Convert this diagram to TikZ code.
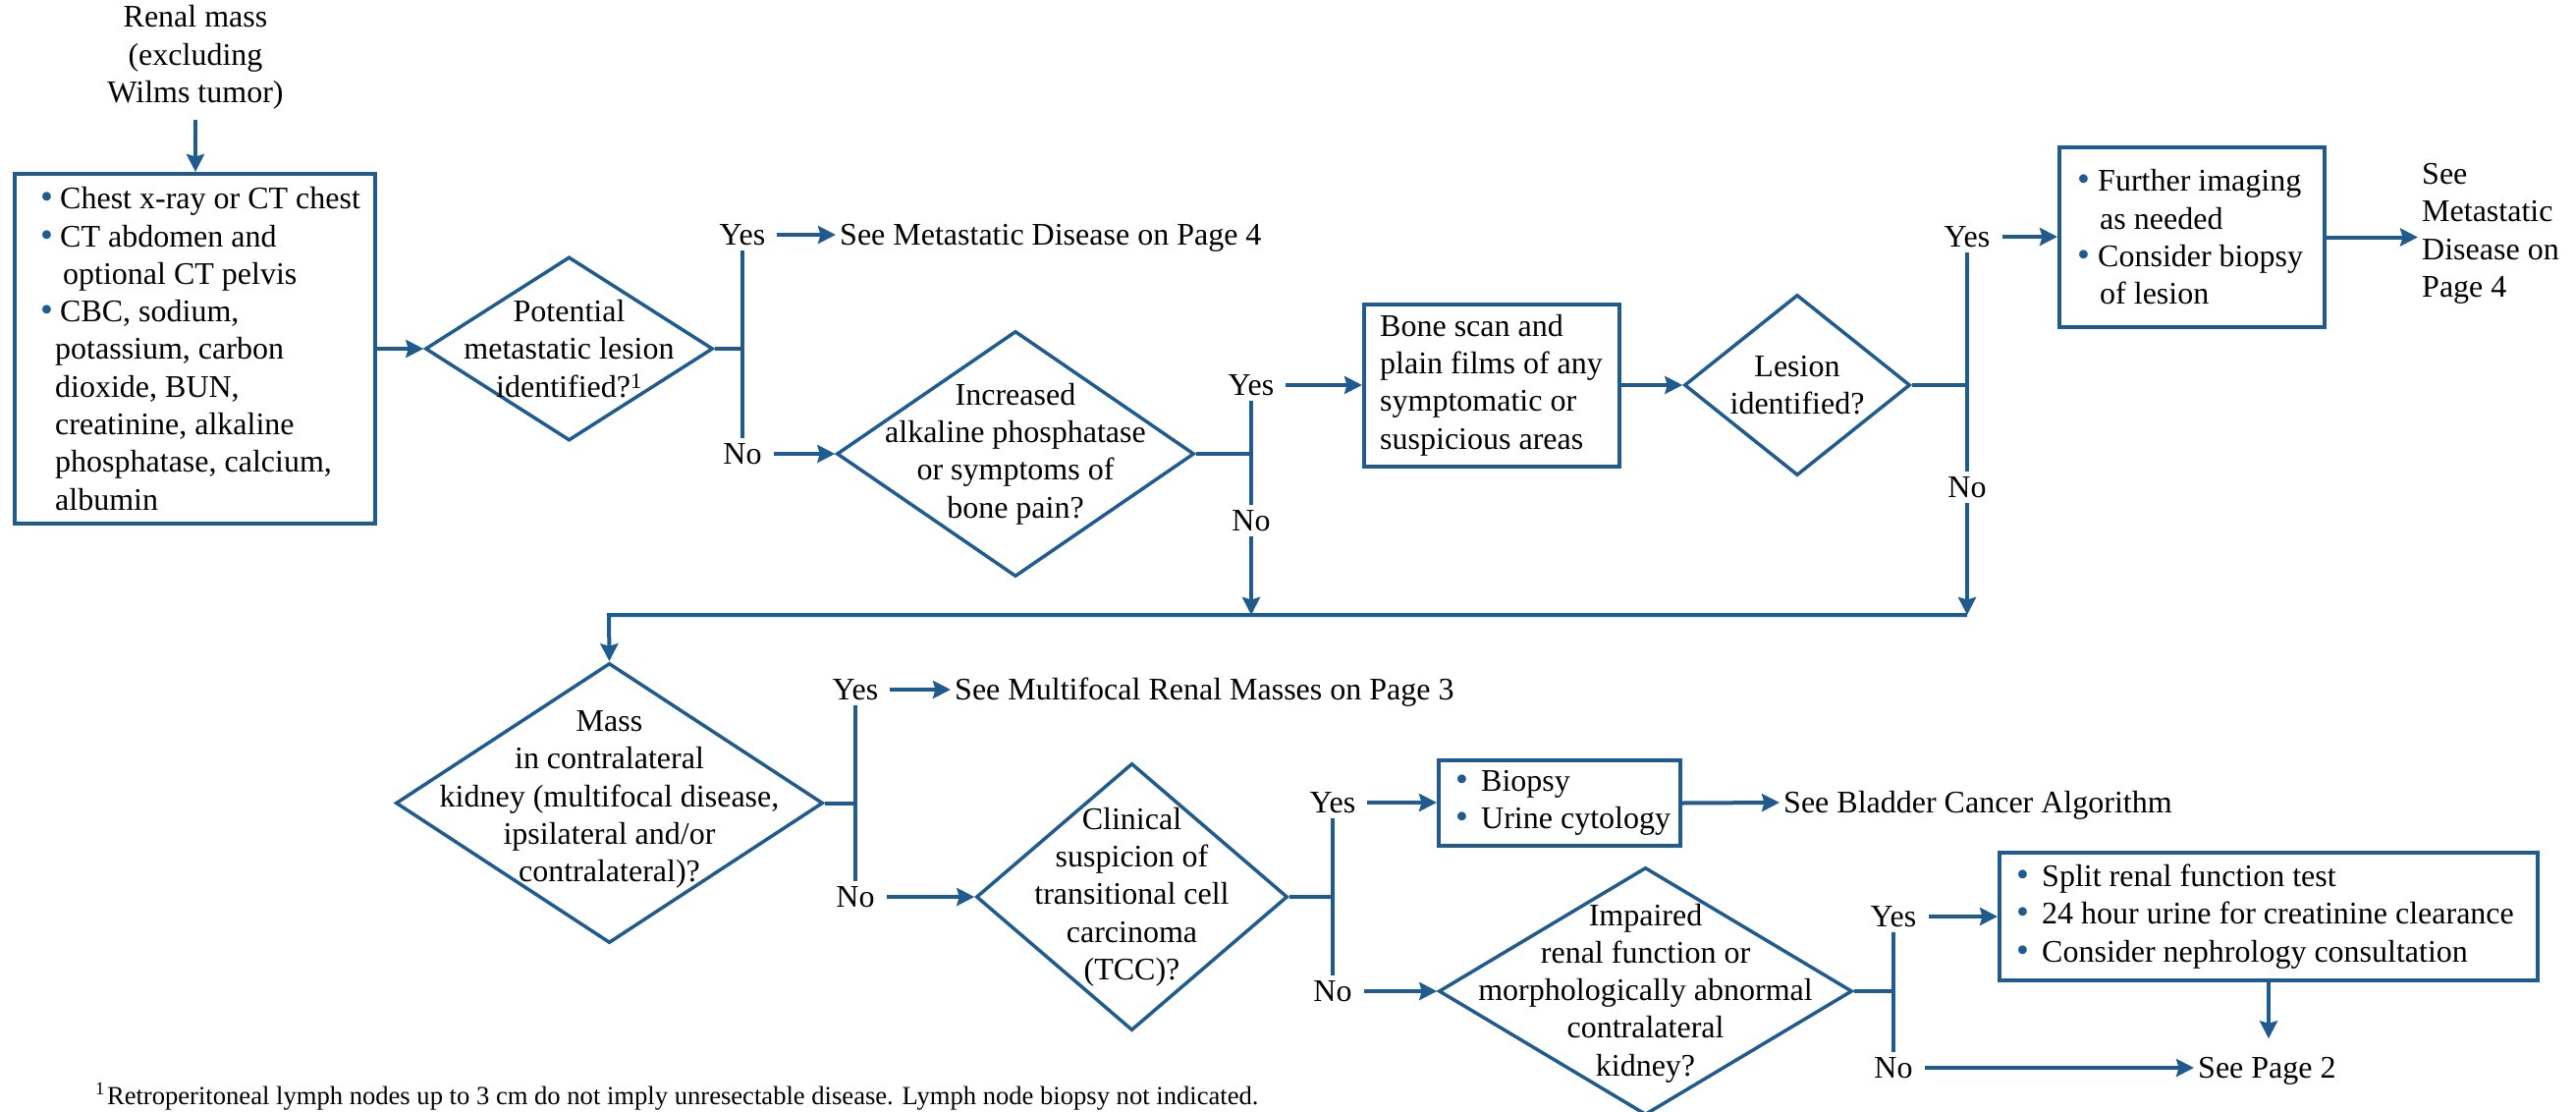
\documentclass[tikz,border=0pt]{standalone}
\usepackage{fontspec}
\setmainfont{Liberation Serif}
\usetikzlibrary{shapes.geometric,arrows.meta}
\definecolor{mblue}{RGB}{31,91,143}
% bullet in a fixed-width box so the item text starts at a fixed offset
\newcommand{\bi}[1][20pt]{\makebox[#1][l]{\color{mblue}\scalebox{1.15}{\textbullet}}}

\tikzset{
  every node/.style={font=\fontsize{32}{38.3}\selectfont, inner sep=0pt},
  boxnode/.style={draw=mblue, line width=4pt, rectangle, line join=miter},
  dnode/.style={draw=mblue, line width=3.5pt, diamond, aspect=1},
  btext/.style={align=left, anchor=west},
  dtext/.style={align=center},
  yn/.style={inner xsep=12pt, inner ysep=5pt, text height=21pt, text depth=0pt},
  seetext/.style={anchor=west, inner xsep=4pt, text height=21pt, text depth=0pt},
  conn/.style={draw=mblue, line width=4pt},
  arr/.style={conn, -{Stealth[length=18pt,width=18pt,inset=2.5pt]}},
}

\begin{document}
\begin{tikzpicture}[x=1pt, y=-1pt]
\useasboundingbox (0,0) rectangle (2623,1132);

% ---------- first row ----------
\node[align=center, inner ysep=10pt] (start) at (199,58.5) {Renal mass\\(excluding\\Wilms tumor)};

\node[boxnode, minimum width=367, minimum height=356] (b1) at (198.5,355) {};
\node[btext] (b1t) at (41,355) {%
\bi Chest x-ray or CT chest\\
\bi CT abdomen and\\
\hspace*{23pt}optional CT pelvis\\
\bi CBC, sodium,\\
\hspace*{15pt}potassium, carbon\\
\hspace*{15pt}dioxide, BUN,\\
\hspace*{15pt}creatinine, alkaline\\
\hspace*{15pt}phosphatase, calcium,\\
\hspace*{15pt}albumin};

\node[dnode, minimum width=293, minimum height=187] (d1) at (579.5,355) {};
\node[dtext] (d1t) at (d1) {Potential\\metastatic lesion\\identified?\textsuperscript{1}};

\node[yn] (y1) at (756,239) {Yes};
\node[yn] (n1) at (756,462) {No};
\node[seetext] (t1) at (851,239) {See Metastatic Disease on Page 4};

\node[dnode, minimum width=364, minimum height=250] (d2) at (1034,462) {};
\node[dtext] (d2t) at (d2) {Increased\\alkaline phosphatase\\or symptoms of\\bone pain?};

\node[yn] (y2) at (1274,392) {Yes};
\node[yn] (n2) at (1274,530) {No};

\node[boxnode, minimum width=260, minimum height=165] (b2) at (1519,392) {};
\node[btext] (b2t) at (1405,392) {Bone scan and\\plain films of any\\symptomatic or\\suspicious areas};

\node[dnode, minimum width=230, minimum height=184] (d3) at (1830,392) {};
\node[dtext] (d3t) at (d3) {Lesion\\identified?};

\node[yn] (y3) at (2003,241) {Yes};
\node[yn] (n3) at (2003,496) {No};

\node[boxnode, minimum width=270, minimum height=183] (b3) at (2232,241.5) {};
\node[btext] (b3t) at (2115,241.5) {%
\bi[21pt]Further imaging\\
\hspace*{23pt}as needed\\
\bi[21pt]Consider biopsy\\
\hspace*{23pt}of lesion};

\node[btext, inner xsep=4pt] (t3) at (2462,238) {See\\Metastatic\\Disease on\\Page 4};

% ---------- second row ----------
\coordinate (mj) at (620,626);

\node[dnode, minimum width=435, minimum height=285] (d4) at (620.5,817.5) {};
\node[dtext] (d4t) at (620.5,814) {Mass\\in contralateral\\kidney (multifocal disease,\\ipsilateral and/or\\contralateral)?};

\node[yn] (y4) at (871,702) {Yes};
\node[yn] (n4) at (871,913) {No};
\node[seetext] (t4) at (968,702) {See Multifocal Renal Masses on Page 3};

\node[dnode, minimum width=317, minimum height=272] (d5) at (1152.5,913) {};
\node[dtext] (d5t) at (d5) {Clinical\\suspicion of\\transitional cell\\carcinoma\\(TCC)?};

\node[yn] (y5) at (1357,817) {Yes};
\node[yn] (n5) at (1357,1009) {No};

\node[boxnode, minimum width=246, minimum height=87] (b5) at (1588,817.5) {};
\node[btext] (b5t) at (1482,817.5) {\bi[26pt]Biopsy\\\bi[26pt]Urine cytology};
\node[seetext] (t5) at (1812,817) {See Bladder Cancer Algorithm};

\node[dnode, minimum width=421, minimum height=252] (d6) at (1675.5,1009) {};
\node[dtext] (d6t) at (1675.5,1011) {Impaired\\renal function or\\morphologically abnormal\\contralateral\\kidney?};

\node[yn] (y6) at (1928,933) {Yes};
\node[yn] (n6) at (1928,1087) {No};

\node[boxnode, minimum width=548, minimum height=130] (b6) at (2310,933) {};
\node[btext] (b6t) at (2053,933) {%
\bi[26pt]Split renal function test\\
\bi[26pt]24 hour urine for creatinine clearance\\
\bi[26pt]Consider nephrology consultation};

\node[seetext] (t6) at (2234,1087) {See Page 2};

% footnote
\node[anchor=base west, font=\fontsize{26.6}{30}\selectfont] (fn) at (97,1124)
  {\textsuperscript{1}\hspace{2pt}Retroperitoneal lymph nodes up to 3 cm do not imply unresectable disease. Lymph node biopsy not indicated.};

% ---------- connectors ----------
\draw[arr] (start.south) -- (start.south |- b1.north);
\draw[arr] (b1.east) -- (d1.west);

\draw[conn] (d1.east) -- (d1.east -| y1);
\draw[conn] (y1.south) -- (n1.north);
\draw[arr] (y1.east) -- (t1.west);
\draw[arr] (n1.east) -- (n1.east -| d2.west);

\draw[conn] (d2.east) -- (d2.east -| y2);
\draw[conn] (y2.south) -- (n2.north);
\draw[arr] (y2.east) -- (y2.east -| b2.west);
\draw[arr] (n2.south) -- (n2.south |- mj);

\draw[arr] (b2.east) -- (d3.west);
\draw[conn] (d3.east) -- (d3.east -| y3);
\draw[conn] (y3.south) -- (n3.north);
\draw[arr] (y3.east) -- (y3.east -| b3.west);
\draw[arr] (b3.east) -- (b3.east -| t3.west);
\draw[arr] (n3.south) -- (n3.south |- mj);

\draw[arr] (n3.south |- mj) -- (mj) -- (d4.north);

\draw[conn] (d4.east) -- (d4.east -| y4);
\draw[conn] (y4.south) -- (n4.north);
\draw[arr] (y4.east) -- (t4.west);
\draw[arr] (n4.east) -- (n4.east -| d5.west);

\draw[conn] (d5.east) -- (d5.east -| y5);
\draw[conn] (y5.south) -- (n5.north);
\draw[arr] (y5.east) -- (y5.east -| b5.west);
\draw[arr] (b5.east) -- (t5.west);
\draw[arr] (n5.east) -- (n5.east -| d6.west);

\draw[conn] (d6.east) -- (d6.east -| y6);
\draw[conn] (y6.south) -- (n6.north);
\draw[arr] (y6.east) -- (y6.east -| b6.west);
\draw[arr] (n6.east) -- (t6.west);
\draw[arr, shorten >=19pt] (b6.south) -- (b6.south |- t6.north);
\end{tikzpicture}
\end{document}
